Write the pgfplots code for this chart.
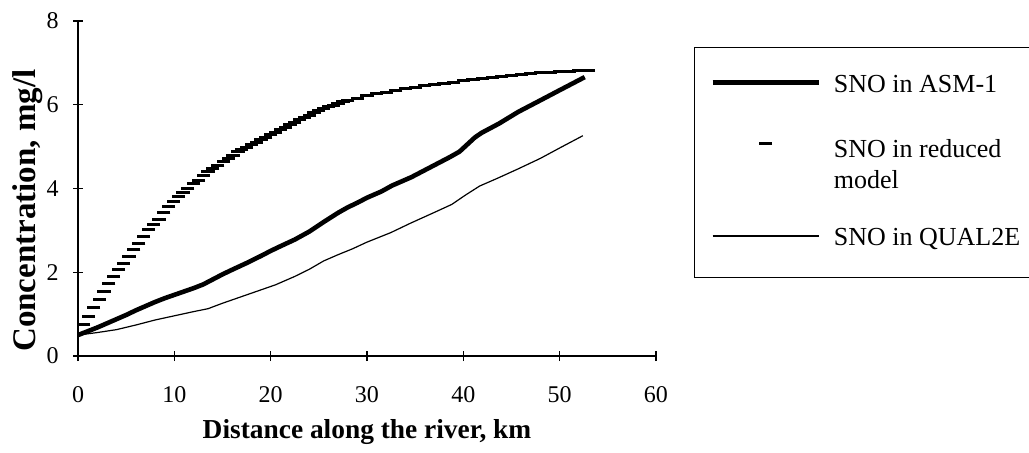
\documentclass[border=0pt]{standalone}
\usepackage{fontspec}
\setmainfont{Liberation Serif}
\usepackage{pgfplots}
\usepackage{pgfplotstable}
\pgfplotsset{compat=1.18}

\pgfplotsset{
  legline/.style={legend image code/.code={\path[draw=none] (0pt,0pt) -- (62pt,0pt); \draw[##1] (9pt,5pt) -- (62pt,5pt);}},
  legmark/.style={legend image code/.code={\path[draw=none] (0pt,0pt) -- (62pt,0pt); \draw[##1] plot coordinates {(35.5pt,6.7pt)};}},
}
% strut: height above and depth below the baseline of a legend row
\newcommand{\rowstrut}[2]{\rule[-#2]{0pt}{\dimexpr#1+#2\relax}}

% SNO in ASM-1 (thick line)
\pgfplotstableread{
x y
0 0.50
1 0.59
2 0.68
3 0.78
4 0.88
5 0.98
6 1.09
7 1.19
8 1.29
9 1.38
10 1.46
11 1.54
12 1.62
13 1.71
14 1.83
15 1.95
16 2.06
17.5 2.22
19 2.39
20 2.51
21 2.62
22.5 2.78
24 2.97
25.5 3.20
27 3.42
28 3.55
29 3.66
30 3.78
31.5 3.93
32.6 4.07
34.6 4.27
36.6 4.51
38.6 4.75
39.6 4.88
40.4 5.05
41.2 5.22
41.9 5.33
43.7 5.55
45.7 5.83
47.7 6.07
50.1 6.36
52.6 6.66
}\asm

% SNO in reduced model (dash marks)
\pgfplotstableread{
x y
0.6 0.75
1.1 0.95
1.6 1.15
2.2 1.35
2.7 1.53
3.2 1.72
3.7 1.90
4.2 2.06
4.7 2.20
5.3 2.38
5.8 2.54
6.3 2.69
6.8 2.85
7.3 3.01
7.8 3.15
8.4 3.27
8.9 3.42
9.4 3.57
9.9 3.69
10.4 3.80
10.9 3.91
11.4 4.00
12.0 4.11
12.5 4.20
13.0 4.31
13.5 4.40
14.0 4.48
14.5 4.56
15.1 4.64
15.6 4.72
16.1 4.80
16.6 4.88
17.0 4.93
17.5 4.99
18.0 5.04
18.5 5.10
19.0 5.16
19.5 5.22
20.0 5.28
20.5 5.34
21.0 5.40
21.5 5.46
22.0 5.52
22.5 5.58
23.0 5.64
23.5 5.70
24.0 5.75
24.5 5.81
25.0 5.86
25.5 5.91
26.0 5.95
26.5 5.99
27.0 6.03
27.5 6.07
28.0 6.10
29 6.16
30 6.21
31 6.26
32 6.30
33 6.34
34 6.38
35 6.41
36 6.45
37 6.48
38 6.51
39 6.54
40 6.57
41 6.60
42 6.63
43 6.66
44 6.68
45 6.70
46 6.72
47 6.74
48 6.76
49 6.78
50 6.79
51 6.80
52 6.81
53 6.82
}\reduced

% SNO in QUAL2E (thin line)
\pgfplotstableread{
x y
0 0.50
2 0.56
4 0.63
6 0.74
8 0.86
10 0.96
12 1.06
13.5 1.13
15 1.26
17 1.42
19 1.58
20.5 1.70
22.5 1.90
24 2.07
25.5 2.27
27 2.42
28.5 2.56
30 2.72
32.5 2.95
34.5 3.17
37 3.43
38.8 3.62
40.2 3.84
41.7 4.06
43.5 4.24
45.7 4.47
48 4.72
50.1 4.98
52.4 5.26
}\qual

\begin{document}
\begin{tikzpicture}
\useasboundingbox (0,0) rectangle (514.5pt,226pt);
\begin{axis}[
    at={(39pt,48pt)}, anchor=south west,
    scale only axis,
    width=289pt, height=167.5pt,
    xmin=0, xmax=60, ymin=0, ymax=8,
    axis x line=bottom, axis y line=left,
    axis line style={-, line width=0.55pt},
    xtick={0,10,...,60}, ytick={0,2,...,8},
    tick align=center, major tick length=5pt,
    tick style={line width=0.55pt, black},
    tick label style={font=\fontsize{12}{14}\selectfont},
    /pgf/number format/assume math mode=true,
    yticklabel style={anchor=east, inner sep=0pt, xshift=-7pt},
    xticklabel style={anchor=north, inner sep=0pt, yshift=-12.5pt},
    xlabel={Distance along the river, km},
    ylabel={Concentration, mg/l},
    every axis x label/.style={at={(axis description cs:0.5,-0.227)}, anchor=center,
        font=\fontsize{13.7}{16}\selectfont\bfseries},
    every axis y label/.style={at={(axis description cs:-0.0865,0.434)}, anchor=center, rotate=90,
        font=\fontsize{16.5}{19}\selectfont\bfseries},
    clip=false,
    legend style={at={(axis description cs:1.066,0.923)}, anchor=north west,
        draw=black, line width=0.5pt, inner xsep=0pt, inner ysep=0pt,
        row sep=0pt, column sep=6.5pt,
        font=\fontsize{13}{16}\selectfont,
        nodes={inner sep=0pt}, cells={anchor=base west}},
]
\addplot[black, line width=2.3pt, line join=round, legline] table {\asm};
\addlegendentry{\makebox[98pt][l]{\rowstrut{22.5pt}{0pt}SNO in ASM-1}}
\addplot[black, only marks, mark=-, mark size=3.3pt,
    mark options={line width=1.5pt, line cap=butt}, legmark] table {\reduced};
\addlegendentry{\makebox[98pt][l]{\rowstrut{31pt}{0pt}SNO in reduced}}
\addlegendimage{empty legend}
\addlegendentry{\makebox[98pt][l]{\rowstrut{14.2pt}{0pt}model}}
\addplot[black, line width=0.6pt, legline] table {\qual};
\addlegendentry{\makebox[98pt][l]{\rowstrut{27.1pt}{0pt}SNO in QUAL2E}}
\addlegendimage{empty legend}
\addlegendentry{\rowstrut{13pt}{0pt}}
\end{axis}
\end{tikzpicture}
\end{document}
